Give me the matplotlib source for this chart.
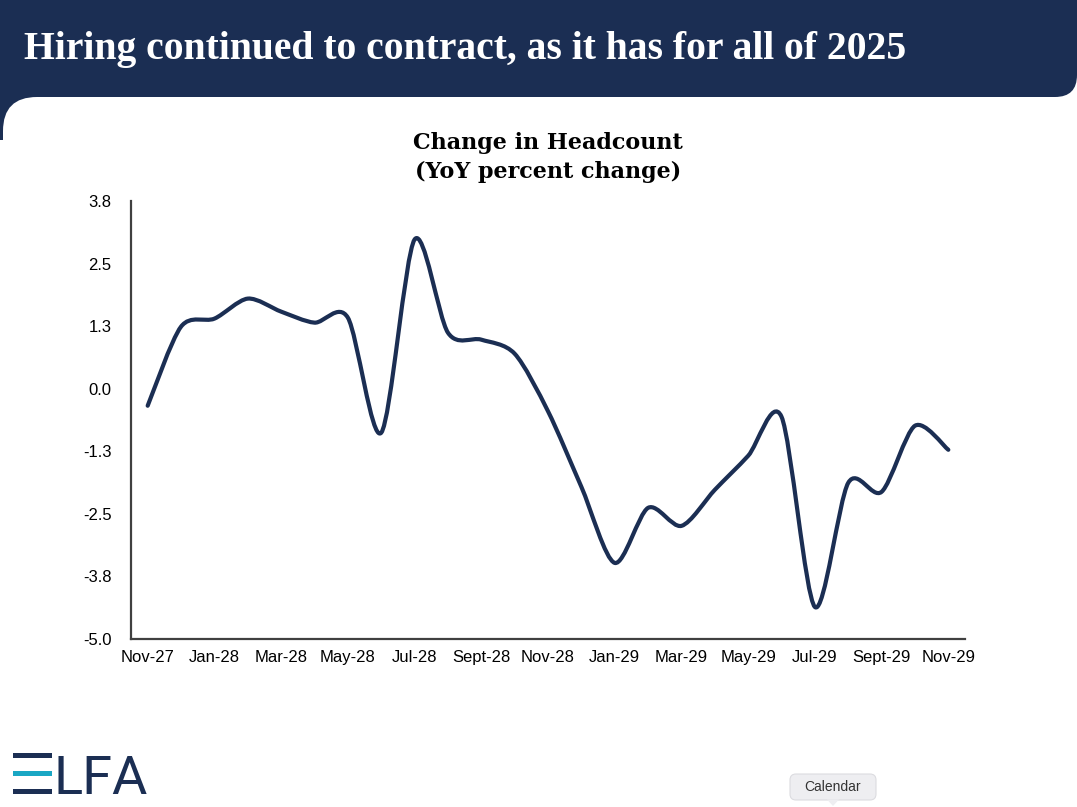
import numpy as np
import matplotlib.pyplot as plt
from matplotlib.patches import FancyBboxPatch, Rectangle, Polygon
from matplotlib.path import Path
from matplotlib.patches import PathPatch

NAVY = '#1B2E53'
TEAL = '#1AA7C4'

# monthly labels Nov-27 .. Nov-29
month_names = ['Nov', 'Dec', 'Jan', 'Feb', 'Mar', 'Apr', 'May', 'Jun', 'Jul', 'Aug', 'Sept', 'Oct']
years = ['27', '27', '28', '28', '28', '28', '28', '28', '28', '28', '28', '28',
         '28', '28', '29', '29', '29', '29', '29', '29', '29', '29', '29', '29', '29']
months = [month_names[i % 12] + '-' + years[i] for i in range(25)]

# YoY percent change in headcount
headcount = [-0.34, 1.24, 1.40, 1.80, 1.54, 1.32, 1.42, -0.88, 2.98, 1.12, 0.98, 0.70, -0.45,
             -1.96, -3.48, -2.38, -2.74, -2.02, -1.34, -0.56, -4.36, -1.88, -2.06, -0.74, -1.22]

yticks = [-5.0, -3.75, -2.5, -1.25, 0.0, 1.25, 2.5, 3.75]
ytick_labels = ['-5.0', '-3.8', '-2.5', '-1.3', '0.0', '1.3', '2.5', '3.8']

fig = plt.figure(figsize=(10.77, 8.07), dpi=100)
fig.patch.set_facecolor('white')

# background / header drawn in pixel coords
bg = fig.add_axes([0, 0, 1, 1])
bg.set_xlim(0, 1077)
bg.set_ylim(807, 0)
bg.axis('off')
bg.add_patch(FancyBboxPatch((-60, -60), 1077 + 60, 157, boxstyle='round,pad=0,rounding_size=22',
                            fc=NAVY, ec='none'))
bg.add_patch(Rectangle((0, 90), 60, 50, fc=NAVY, ec='none'))
bg.add_patch(FancyBboxPatch((3, 97), 1200, 900, boxstyle='round,pad=0,rounding_size=34',
                            fc='white', ec='none'))
bg.text(24, 50, 'Hiring continued to contract, as it has for all of 2025', color='white',
        fontsize=28.5, fontweight='bold', family='Liberation Serif',
        ha='left', va='center')

# ELFA logo
for yy, c in [(755, NAVY), (773, TEAL), (791, NAVY)]:
    bg.add_patch(Rectangle((13, yy - 2.5), 39, 5, fc=c, ec='none'))
bg.text(53, 793.5, 'LFA', color=NAVY, fontsize=39, family='Roboto',
        ha='left', va='baseline')

# Calendar tooltip
bg.add_patch(FancyBboxPatch((790, 774), 86, 26, boxstyle='round,pad=0,rounding_size=6',
                            fc='#EEEEF1', ec='#dcdce0', lw=0.8))
bg.add_patch(Polygon([[827, 799.5], [839, 799.5], [833, 806]], closed=True, fc='#EEEEF1', ec='none'))
bg.text(833, 787, 'Calendar', color='#333333', fontsize=10, family='Liberation Sans',
        ha='center', va='center')

# chart title
bg.text(548, 143, 'Change in Headcount', fontsize=16, fontweight='bold', family='DejaVu Serif',
        ha='center', va='center', color='black')
bg.text(548, 172, '(YoY percent change)', fontsize=16, fontweight='bold', family='DejaVu Serif',
        ha='center', va='center', color='black')

ax = fig.add_axes([131 / 1077, 1 - 639 / 807, 834 / 1077, 438 / 807])
ax.patch.set_alpha(0)
x = np.arange(len(headcount))
y = np.array(headcount)

# smoothed line, like Excel's "smoothed line" option (cubic Bezier through the points)
k = 1 / 7
verts = [(x[0], y[0])]
codes = [Path.MOVETO]
n = len(x)
for i in range(n - 1):
    p0 = np.array([x[max(i - 1, 0)], y[max(i - 1, 0)]])
    p1 = np.array([x[i], y[i]])
    p2 = np.array([x[i + 1], y[i + 1]])
    p3 = np.array([x[min(i + 2, n - 1)], y[min(i + 2, n - 1)]])
    c1 = p1 + (p2 - p0) * k
    c2 = p2 - (p3 - p1) * k
    verts += [tuple(c1), tuple(c2), tuple(p2)]
    codes += [Path.CURVE4] * 3
ax.add_patch(PathPatch(Path(verts, codes), fc='none', ec=NAVY, lw=3, capstyle='round',
                       joinstyle='round'))

ax.set_xlim(-0.5, 24.5)
ax.set_ylim(-5.0, 3.75)
ax.set_yticks(yticks)
ax.set_yticklabels(ytick_labels)
ax.set_xticks(x[::2])
ax.set_xticklabels(months[::2])
for s in ['top', 'right']:
    ax.spines[s].set_visible(False)
for s in ['left', 'bottom']:
    ax.spines[s].set_color('#404040')
    ax.spines[s].set_linewidth(1.6)
ax.tick_params(length=0, labelsize=12, labelcolor='black', pad=8)
ax.tick_params(axis='y', pad=14)
for lab in ax.get_xticklabels() + ax.get_yticklabels():
    lab.set_family('Liberation Sans')

fig.savefig('out.png', dpi=100)
